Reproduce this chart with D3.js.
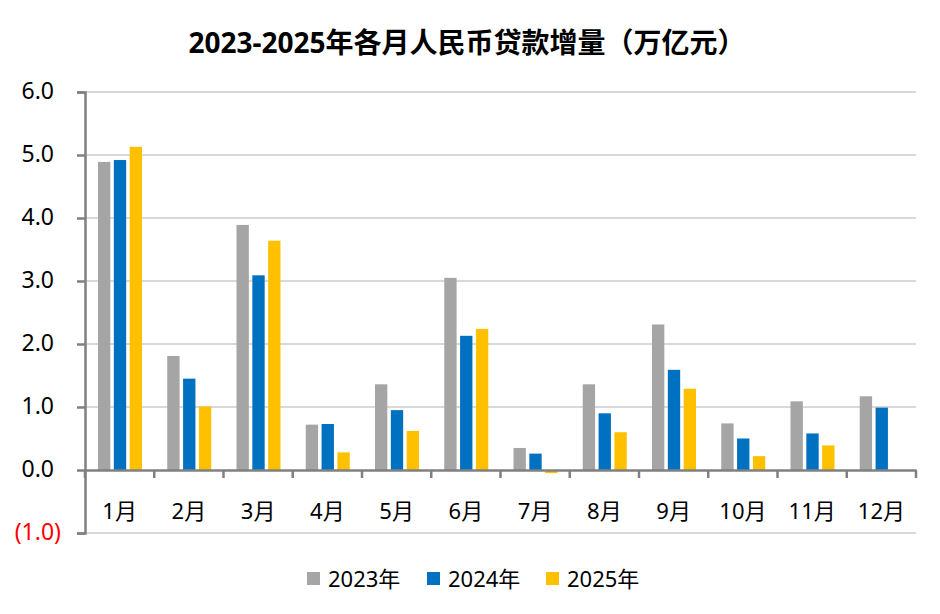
<!DOCTYPE html>
<html>
<head>
<meta charset="utf-8">
<script src="https://cdn.jsdelivr.net/npm/d3@7"></script>
<style>
  body { margin: 0; background: #fff; }
  text { font-family: "Noto Sans", "Noto Sans CJK SC", sans-serif; }
</style>
</head>
<body>
<div id="chart"></div>
<script>
// data (万亿元)
let months = ["1月","2月","3月","4月","5月","6月","7月","8月","9月","10月","11月","12月"];
let years = ["2023年","2024年","2025年"];
let v2023 = [4.89, 1.81, 3.89, 0.72, 1.36, 3.05, 0.35, 1.36, 2.31, 0.74, 1.09, 1.17];
let v2024 = [4.92, 1.45, 3.09, 0.73, 0.95, 2.13, 0.26, 0.90, 1.59, 0.50, 0.58, 0.99];
let v2025 = [5.13, 1.01, 3.64, 0.28, 0.62, 2.24, -0.05, 0.60, 1.29, 0.22, 0.39, null];
let yTicks = [-1, 0, 1, 2, 3, 4, 5, 6];

let colors = ["#a5a5a5", "#0070c0", "#ffc000"];
let series = [v2023, v2024, v2025];
let fontStack = "'Noto Sans', 'Noto Sans CJK SC', sans-serif";

let width = 940, height = 614;
let margin = {top: 92, right: 24, bottom: 81, left: 85};
let innerW = width - margin.left - margin.right,
    innerH = height - margin.top - margin.bottom;

let svg = d3.select("#chart").append("svg")
    .attr("width", width)
    .attr("height", height);

let g = svg.append("g")
    .attr("transform", "translate(" + margin.left + "," + margin.top + ")");

let x = d3.scaleBand()
    .domain(months)
    .range([0, innerW]);

let y = d3.scaleLinear()
    .domain([-1, 6])
    .range([innerH, 0]);

let xSub = d3.scaleBand()
    .domain(years)
    .range([13, 57])
    .paddingInner(0.22);

// gridlines
g.selectAll(".grid")
    .data(yTicks.filter(function(d){ return d !== 0; }))
    .enter().append("line")
    .attr("x1", 0).attr("x2", innerW)
    .attr("y1", function(d){ return y(d); })
    .attr("y2", function(d){ return y(d); })
    .attr("stroke", "#d9d9d9")
    .attr("stroke-width", 2);

// bars
let rows = [];
months.forEach(function(m, i) {
    years.forEach(function(yr, j) {
        if (series[j][i] != null) rows.push({month: m, year: yr, value: series[j][i], c: colors[j]});
    });
});

g.selectAll("rect.bar")
    .data(rows).enter()
    .append("rect")
    .attr("class", "bar")
    .attr("x", function(d){ return x(d.month) + xSub(d.year); })
    .attr("width", xSub.bandwidth())
    .attr("y", function(d){ return y(Math.max(0, d.value)); })
    .attr("height", function(d){ return Math.abs(y(d.value) - y(0)); })
    .attr("fill", function(d){ return d.c; });

// y axis, excel style "0.0_);(0.0)" - positives leave room for the ")"
let yAxis = g.append("g")
    .call(d3.axisLeft(y).tickValues(yTicks).tickSize(8).tickPadding(16)
        .tickFormat(function(d){ return d < 0 ? "(" + d3.format(".1f")(-d) + ")" : d3.format(".1f")(d); }));
yAxis.select(".domain").attr("stroke", "#808080").attr("stroke-width", 2.5);
yAxis.selectAll(".tick line").attr("stroke", "#808080").attr("stroke-width", 2.5);
yAxis.selectAll(".tick text")
    .attr("font-size", 23)
    .attr("dy", "0.28em")
    .attr("dx", function(d){ return d < 0 ? 0 : -7; })
    .attr("fill", function(d){ return d < 0 ? "#ff0000" : "#000"; })
    .style("font-family", fontStack);

// x axis at zero
let xAxis = g.append("g")
    .attr("transform", "translate(0," + y(0) + ")")
    .call(d3.axisBottom(x).tickSize(0).tickPadding(33));
xAxis.select(".domain").attr("stroke", "#808080").attr("stroke-width", 2.5);
xAxis.selectAll(".tick text").attr("font-size", 22).attr("fill", "#000")
    .style("font-family", fontStack);

// category separators
g.selectAll(".sep")
    .data(months.concat(["end"]))
    .enter().append("line")
    .attr("x1", function(d, i){ return i * x.step(); })
    .attr("x2", function(d, i){ return i * x.step(); })
    .attr("y1", y(0)).attr("y2", y(0) + 8)
    .attr("stroke", "#808080").attr("stroke-width", 2.5);

// title
svg.append("text")
    .attr("x", 467).attr("y", 53)
    .attr("text-anchor", "middle")
    .attr("font-size", 28)
    .attr("font-weight", "bold")
    .text("2023-2025年各月人民币贷款增量（万亿元）");

// legend
let legendX = [307, 427, 546];
let legend = svg.selectAll(".legend")
    .data(years).enter().append("g")
    .attr("transform", function(d, i){ return "translate(" + legendX[i] + ",572)"; });
legend.append("rect")
    .attr("width", 13).attr("height", 13)
    .attr("fill", function(d, i){ return colors[i]; });
legend.append("text")
    .attr("x", 21).attr("y", 15)
    .attr("font-size", 22)
    .text(function(d){ return d; });
</script>
</body>
</html>
